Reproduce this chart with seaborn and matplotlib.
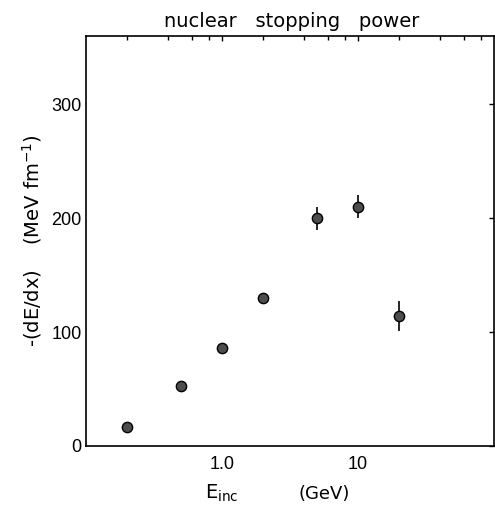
import numpy as np
import pandas as pd
import matplotlib
matplotlib.use('Agg')
import matplotlib.pyplot as plt
import matplotlib.ticker as mticker
import seaborn as sns

# data
e_inc = [0.2, 0.5, 1.0, 2.0, 5.0, 10.0, 20.0]          # GeV
dedx = [17, 53, 86, 130, 200, 210, 114]                # MeV/fm
dedx_err = [0, 0, 0, 0, 10, 10, 13]

x_major = [1.0, 10.0]
x_major_labels = ['1.0', '10']
x_minor = [0.2, 0.4, 0.6, 0.8, 2, 4, 6, 8, 20, 40, 60, 80]
y_ticks = [0, 100, 200, 300]


def plot_stopping_power(df):
    """Draw the nuclear stopping power figure"""
    sns.set_theme(style='white')
    plt.rcParams['font.family'] = ['DejaVu Sans']
    plt.rcParams['mathtext.default'] = 'regular'

    W, H = 495, 514
    fig = plt.figure(figsize=(W / 100, H / 100), dpi=100)
    ax = fig.add_axes([86 / W, 1 - 446 / H, 408 / W, 410 / H])

    # error bars first, then markers on top
    has_err = df['err'] > 0
    ax.errorbar(df.loc[has_err, 'E'], df.loc[has_err, 'dEdx'],
                yerr=df.loc[has_err, 'err'], fmt='none',
                ecolor='black', elinewidth=1.2, capsize=0, zorder=2)
    sns.scatterplot(data=df, x='E', y='dEdx', ax=ax, s=55,
                    color='#4d4d4d', edgecolor='black', linewidth=1.0,
                    zorder=3, legend=False)

    ax.set_xscale('log')
    ax.set_xlim(0.1, 100)
    ax.set_ylim(0, 360)

    ax.xaxis.set_major_locator(mticker.FixedLocator(x_major))
    ax.xaxis.set_major_formatter(mticker.FixedFormatter(x_major_labels))
    ax.xaxis.set_minor_locator(mticker.FixedLocator(x_minor))
    ax.xaxis.set_minor_formatter(mticker.NullFormatter())
    ax.set_yticks(y_ticks)
    ax.set_yticklabels([str(v) for v in y_ticks])

    ax.tick_params(axis='both', which='both', direction='in',
                   top=True, right=True, color='black')
    ax.tick_params(axis='both', which='major', length=3.5, width=1.0,
                   labelsize=13, labelcolor='black')
    ax.tick_params(axis='x', which='major', pad=7)
    ax.tick_params(axis='y', which='major', pad=3)
    ax.tick_params(axis='x', which='minor', length=3, width=1.0)
    for lab in ax.get_xticklabels() + ax.get_yticklabels():
        lab.set_family('Liberation Sans')

    for sp in ax.spines.values():
        sp.set_visible(True)
        sp.set_color('black')
        sp.set_linewidth(1.2)

    ax.set_xlabel('')
    ax.set_ylabel('')

    # labels placed like the original plotter output
    fig.text(292 / W, 1 - 27 / H, 'nuclear   stopping   power',
             ha='center', va='baseline', fontsize=14, color='black')
    fig.text(32 / W, 1 - 241 / H, r'-(dE/dx)    (MeV fm$^{-1}$)',
             rotation=90, ha='center', va='center', fontsize=14, color='black')
    fig.text(205 / W, 1 - 499 / H, r'E$_{inc}$',
             ha='left', va='baseline', fontsize=14, color='black')
    fig.text(298 / W, 1 - 499 / H, '(GeV)',
             ha='left', va='baseline', fontsize=13, color='black')

    fig.savefig('out.png', dpi=100, facecolor='white')
    plt.close(fig)


def main():
    df = pd.DataFrame({'E': e_inc, 'dEdx': dedx, 'err': dedx_err})
    plot_stopping_power(df)


if __name__ == '__main__':
    main()
